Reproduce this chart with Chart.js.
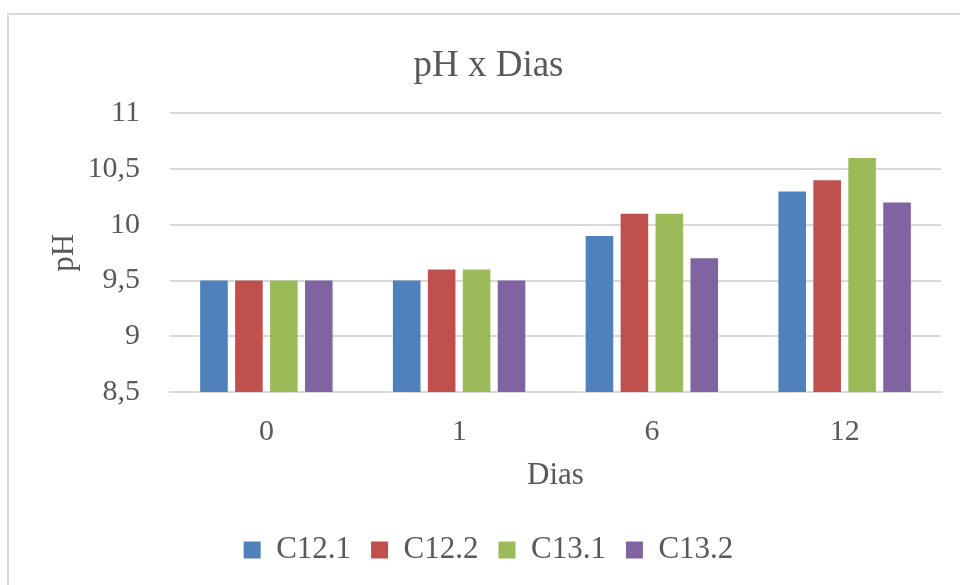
<!DOCTYPE html>
<html>
<head>
<meta charset="utf-8">
<script src="https://cdn.jsdelivr.net/npm/chart.js@4.4.1/dist/chart.umd.min.js"></script>
<style>
  html, body { margin: 0; padding: 0; background: #fff; }
  #wrap { width: 960px; height: 585px; position: relative; }
</style>
</head>
<body>
<div id="wrap"><canvas id="grafico"></canvas></div>
<script>
// dias (categorias)
var dias = ["0", "1", "6", "12"];

// pH por série
var c121 = [9.5, 9.5, 9.9, 10.3];
var c122 = [9.5, 9.6, 10.1, 10.4];
var c131 = [9.5, 9.6, 10.1, 10.6];
var c132 = [9.5, 9.5, 9.7, 10.2];

var series = ["C12.1", "C12.2", "C13.1", "C13.2"];
var cores = ["#4F81BD", "#C0504D", "#9BBB59", "#8064A2"];

// eixo y
var yTicks = [8.5, 9, 9.5, 10, 10.5, 11];

var fonte = "'Liberation Serif', 'Times New Roman', serif";
var cinza = "#595959";

// moldura do gráfico (estilo Excel)
var moldura = {
    id: "moldura",
    beforeDraw: function(chart) {
        var ctx = chart.ctx;
        ctx.save();
        ctx.fillStyle = "#ffffff";
        ctx.fillRect(0, 0, chart.width, chart.height);
        ctx.strokeStyle = "#d9d9d9";
        ctx.lineWidth = 2;
        ctx.strokeRect(8, 14, 1200, 1200);
        ctx.restore();
    }
};

var valores = [c121, c122, c131, c132];
var datasets = [];
for (var i = 0; i < series.length; i++) {
    datasets.push({
        label: series[i],
        data: valores[i],
        backgroundColor: cores[i],
        borderWidth: 0,
        categoryPercentage: 0.725,
        barPercentage: 0.79
    });
}

var ctx = document.getElementById("grafico");

var config = {
    type: "bar",
    data: {
        labels: dias,
        datasets: datasets
    },
    options: {
        responsive: true,
        maintainAspectRatio: false,
        animation: false,
        layout: {
            padding: { left: 36, right: 19, top: 14, bottom: 9.5 }
        },
        plugins: {
            title: {
                display: true,
                text: "pH x Dias",
                color: cinza,
                font: { family: fonte, size: 37, weight: "normal" },
                padding: { top: 30, bottom: 25 }
            },
            legend: {
                display: true,
                position: "bottom",
                labels: {
                    color: cinza,
                    font: { family: fonte, size: 31 },
                    boxWidth: 17,
                    boxHeight: 17,
                    padding: 20
                }
            },
            tooltip: { enabled: false }
        },
        scales: {
            x: {
                grid: { display: false, drawTicks: false },
                border: { display: true, color: "#d9d9d9", width: 2 },
                ticks: {
                    color: cinza,
                    font: { family: fonte, size: 30 },
                    padding: 22
                },
                title: {
                    display: true,
                    text: "Dias",
                    color: cinza,
                    font: { family: fonte, size: 31 },
                    padding: { top: 4, bottom: 20 }
                },
                afterFit: function(s) { s.height = 122.5; }
            },
            y: {
                min: yTicks[0],
                max: yTicks[yTicks.length - 1],
                afterBuildTicks: function(s) {
                    s.ticks = yTicks.map(function(v) { return { value: v }; });
                },
                grid: { color: "#d9d9d9", lineWidth: 2, drawTicks: false },
                border: { display: false },
                ticks: {
                    color: cinza,
                    font: { family: fonte, size: 30 },
                    padding: 30,
                    callback: function(v) { return String(v).replace(".", ","); }
                },
                title: {
                    display: true,
                    text: "pH",
                    color: cinza,
                    font: { family: fonte, size: 31 },
                    padding: { top: 10, bottom: 4 }
                },
                afterFit: function(s) { s.width = 134; }
            }
        }
    },
    plugins: [moldura]
};

var chart = new Chart(ctx, config);
</script>
</body>
</html>
